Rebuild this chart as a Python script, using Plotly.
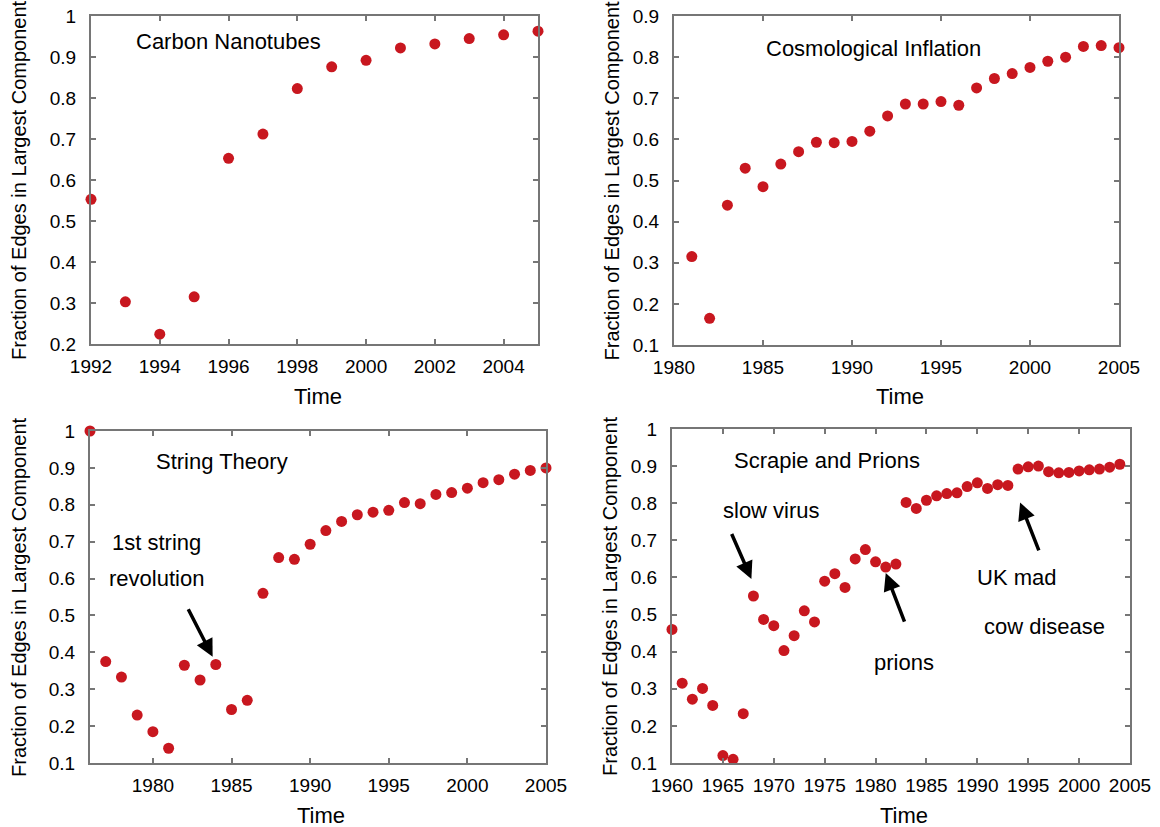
import plotly.graph_objects as go

# データ
cn_years = list(range(1992, 2006))
cn_frac = [0.553, 0.303, 0.224, 0.315, 0.653, 0.712, 0.823, 0.876, 0.892,
           0.922, 0.932, 0.945, 0.954, 0.963]

ci_years = list(range(1981, 2006))
ci_frac = [0.315, 0.165, 0.44, 0.53, 0.485, 0.54, 0.57, 0.593, 0.592, 0.595,
           0.62, 0.657, 0.686, 0.686, 0.692, 0.683, 0.725, 0.748, 0.76, 0.775,
           0.79, 0.80, 0.826, 0.828, 0.823]

st_years = list(range(1976, 2006))
st_frac = [1.0, 0.375, 0.333, 0.23, 0.185, 0.14, 0.365, 0.325, 0.367, 0.245,
           0.27, 0.56, 0.657, 0.652, 0.693, 0.73, 0.755, 0.773, 0.78, 0.785,
           0.806, 0.803, 0.828, 0.833, 0.845, 0.86, 0.868, 0.883, 0.893, 0.9]

sp_years = list(range(1960, 2005))
sp_frac = [0.46, 0.315, 0.272, 0.301, 0.255, 0.12, 0.11, 0.233, 0.55, 0.487,
           0.47, 0.403, 0.443, 0.51, 0.48, 0.59, 0.61, 0.573, 0.65, 0.675,
           0.642, 0.628, 0.636, 0.802, 0.786, 0.808, 0.82, 0.826, 0.828, 0.845,
           0.855, 0.84, 0.85, 0.848, 0.892, 0.898, 0.9, 0.885, 0.882, 0.883,
           0.887, 0.89, 0.892, 0.897, 0.905]

W, H = 1160, 827
FONT = "Liberation Sans, Arial, sans-serif"
RED = "#c8171f"
FRAME = "#767676"

# パネル配置 (ピクセル: 左, 右, 上, 下) と縦軸タイトルのx位置
panels = [
    dict(x=cn_years, y=cn_frac, box=(91, 538, 16, 344), ytx=19, xr=[1992, 2005], yr=[0.2, 1.0], dx=2),
    dict(x=ci_years, y=ci_frac, box=(674, 1119, 16, 345), ytx=611, xr=[1980, 2005], yr=[0.1, 0.9], dx=5),
    dict(x=st_years, y=st_frac, box=(90, 546, 431, 763), ytx=19, xr=[1976, 2005], yr=[0.1, 1.0], dx=5),
    dict(x=sp_years, y=sp_frac, box=(672, 1130, 429, 763), ytx=610, xr=[1960, 2005], yr=[0.1, 1.0], dx=5),
]

fig = go.Figure()
annotations = []
for i, p in enumerate(panels, start=1):
    l, r, t, b = p['box']
    sfx = "" if i == 1 else str(i)
    fig.add_trace(go.Scatter(x=p['x'], y=p['y'], mode='markers',
                             marker=dict(color=RED, size=11),
                             cliponaxis=False, showlegend=False,
                             xaxis='x' + sfx, yaxis='y' + sfx))
    axis_common = dict(showline=True, linecolor=FRAME, linewidth=2, mirror='ticks',
                       ticks='inside', ticklen=5, tickcolor=FRAME, tickwidth=1.5,
                       showgrid=False, zeroline=False, automargin=False,
                       tickfont=dict(family=FONT, size=19, color='black'))
    fig.update_layout(**{
        'xaxis' + sfx: dict(axis_common, domain=[l / W, r / W], range=p['xr'],
                            dtick=p['dx'], tick0=1960, anchor='y' + sfx,
                            ticklabelstandoff=4),
        'yaxis' + sfx: dict(axis_common, domain=[1 - b / H, 1 - t / H], range=p['yr'],
                            dtick=0.1, tick0=0, anchor='x' + sfx,
                            ticklabelstandoff=9),
    })
    # 軸タイトル
    annotations.append(dict(text="Time", x=(l + r) / 2 / W + 0.003, y=1 - (b + 52) / H,
                            xref='paper', yref='paper', showarrow=False,
                            xanchor='center', yanchor='middle',
                            font=dict(family=FONT, size=22, color='black')))
    annotations.append(dict(text="Fraction of Edges in Largest Component",
                            x=p['ytx'] / W, y=1 - (t + b) / 2 / H, textangle=-90,
                            xref='paper', yref='paper', showarrow=False,
                            xanchor='center', yanchor='middle',
                            font=dict(family=FONT, size=20, color='black')))


def label(text, x, y, n):
    sfx = "" if n == 1 else str(n)
    annotations.append(dict(text=text, x=x, y=y, xref='x' + sfx, yref='y' + sfx,
                            showarrow=False, xanchor='center', yanchor='middle',
                            font=dict(family=FONT, size=22, color='black')))


def arrow(x0, y0, x1, y1, n):
    sfx = "" if n == 1 else str(n)
    annotations.append(dict(text="", x=x1, y=y1, ax=x0, ay=y0,
                            xref='x' + sfx, yref='y' + sfx, axref='x' + sfx, ayref='y' + sfx,
                            showarrow=True, arrowhead=2, arrowsize=1.0, arrowwidth=3.5,
                            arrowcolor='black', standoff=0))


label("Carbon Nanotubes", 1996.0, 0.938, 1)
label("Cosmological Inflation", 1991.2, 0.822, 2)
label("String Theory", 1984.4, 0.918, 3)
label("1st string", 1980.2, 0.698, 3)
label("revolution", 1980.2, 0.60, 3)
arrow(1982.2, 0.521, 1983.8, 0.388, 3)
label("Scrapie and Prions", 1975.25, 0.916, 4)
label("slow virus", 1969.8, 0.78, 4)
arrow(1965.8, 0.721, 1967.8, 0.596, 4)
label("prions", 1982.8, 0.371, 4)
arrow(1982.9, 0.477, 1981.0, 0.612, 4)
label("UK mad", 1993.8, 0.599, 4)
label("cow disease", 1996.6, 0.469, 4)
arrow(1996.1, 0.669, 1994.2, 0.802, 4)

fig.update_layout(width=W, height=H, margin=dict(l=0, r=0, t=0, b=0),
                  paper_bgcolor='white', plot_bgcolor='white',
                  annotations=annotations)

fig.write_html("out.html", config={'displayModeBar': False},
               post_script="document.body.style.margin='0px';")
